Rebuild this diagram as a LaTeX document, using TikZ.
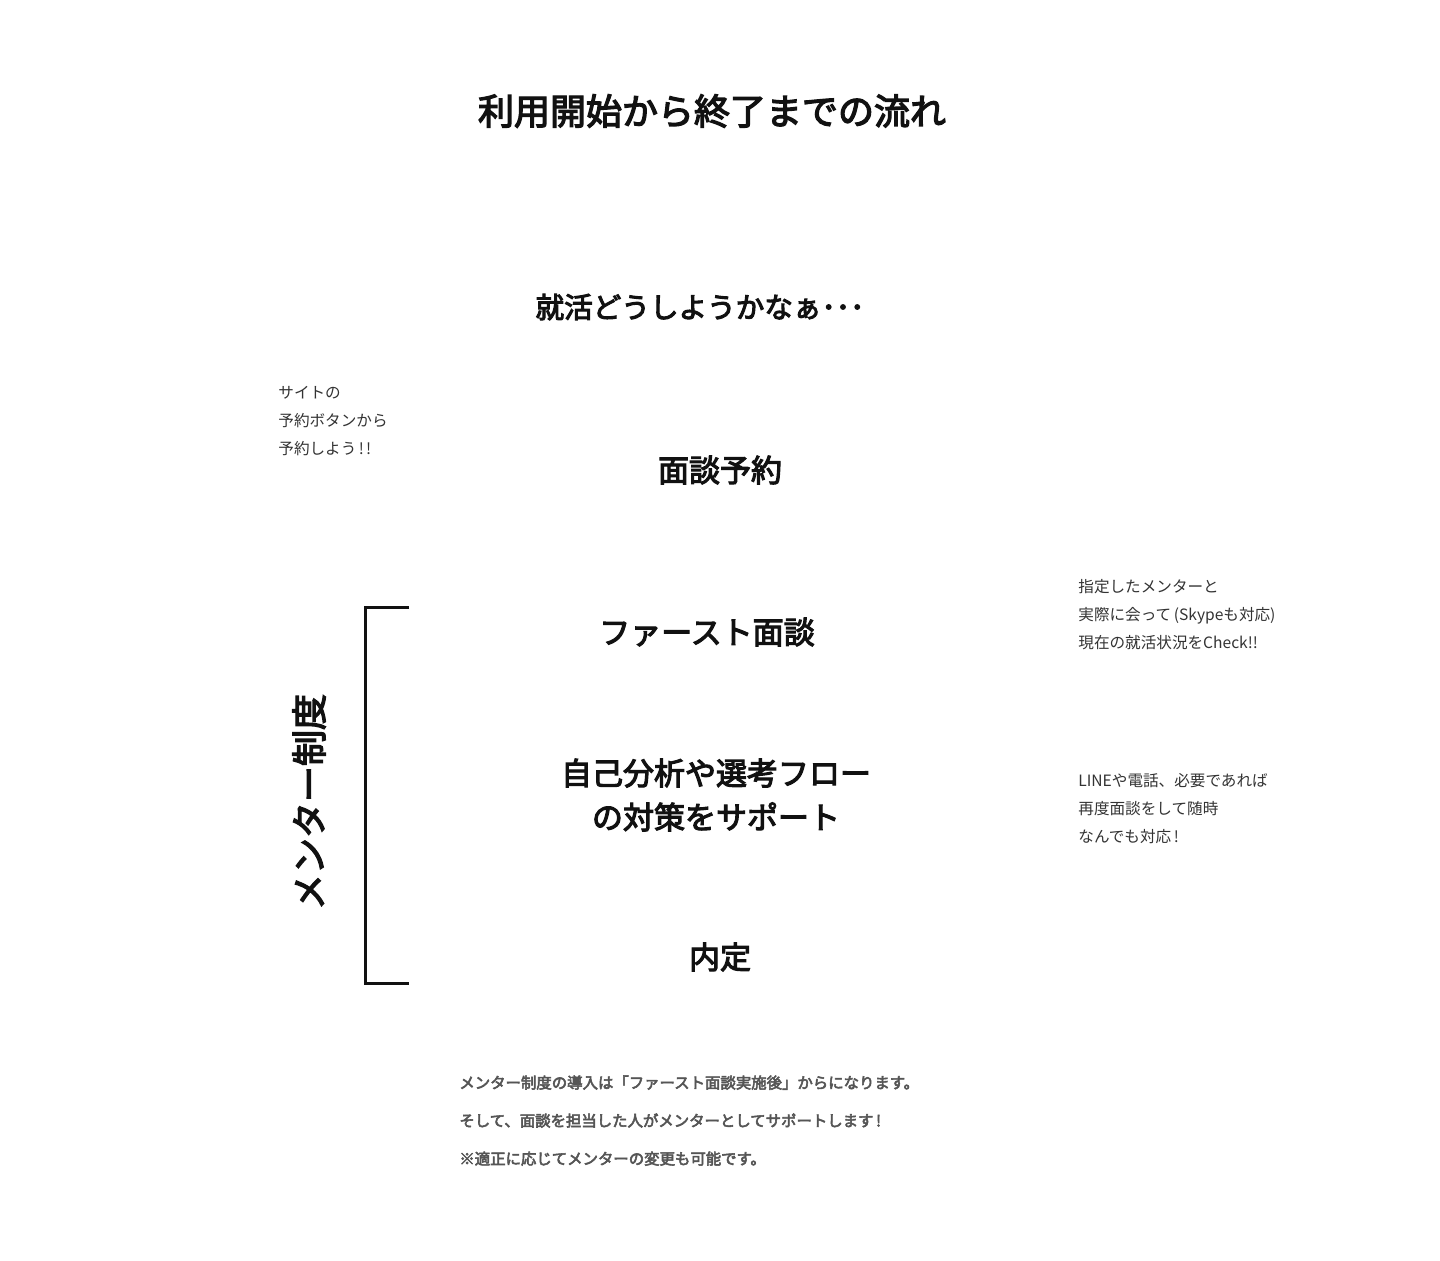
\documentclass[tikz,border=0pt]{standalone}
\usepackage{fontspec}
\setmainfont{Noto Sans CJK JP}[BoldFont={Noto Sans CJK JP},BoldFeatures={FakeBold=3.5}]
\usetikzlibrary{positioning}
\definecolor{ink}{HTML}{111111}
\definecolor{notegray}{HTML}{333333}
\definecolor{footgray}{HTML}{555555}
\tikzset{
    titlenode/.style={
        font=\fontsize{18pt}{22pt}\selectfont\bfseries,text=ink,inner sep=0pt
    },
    flownode/.style={
        font=\fontsize{15.5pt}{22pt}\selectfont\bfseries,text=ink,inner sep=0pt,align=center
    },
    notenode/.style={
        font=\fontsize{7.8pt}{14pt}\selectfont,text=notegray,inner sep=0pt,align=left,anchor=west
    },
    footnode/.style={
        font=\fontsize{7.7pt}{19pt}\selectfont\bfseries,text=footgray,inner sep=0pt,align=left,anchor=north west
    },
    bracketline/.style={
        draw=ink,line width=1.5pt
    }
}

\begin{document}
\begin{tikzpicture}[x=0.5pt,y=-0.5pt]
\useasboundingbox[fill=white] (0,0) rectangle (1440,1260);
\node[titlenode] (title) at (712,111) {利用開始から終了までの流れ};
\node[flownode,font=\fontsize{14.3pt}{22pt}\selectfont\bfseries] (worry) at (700,307) {就活どうしようかなぁ･･･};
\node[flownode] (reserve) at (720,470) {面談予約};
\node[flownode] (first) at (707,632) {ファースト面談};
\node[flownode] (support) at (716,795) {自己分析や選考フロー\\の対策をサポート};
\node[flownode] (offer) at (720,957) {内定};
\node[notenode] (sitenote) at (278,421) {サイトの\\予約ボタンから\\予約しよう\,!\kern1pt!};
\node[notenode] (firstnote) at (1078,615) {指定したメンターと\\実際に会って\,(Skypeも対応)\\現在の就活状況をCheck!!};
\node[notenode] (supportnote) at (1078,809) {LINEや電話、必要であれば\\再度面談をして随時\\なんでも対応\,!};
\node[footnode] (footer) at (459,1075) {メンター制度の導入は「ファースト面談実施後」からになります。\\そして、面談を担当した人がメンターとしてサポートします\,!\\※適正に応じてメンターの変更も可能です。};
\node[titlenode,rotate=90] (mentor) at (309,802) {メンター制度};
% bracket
\coordinate (btop) at (409,607);
\coordinate (bbot) at (409,983);
\draw[bracketline] (btop) -- (365,607) -- (365,983) -- (bbot);
\end{tikzpicture}
\end{document}
